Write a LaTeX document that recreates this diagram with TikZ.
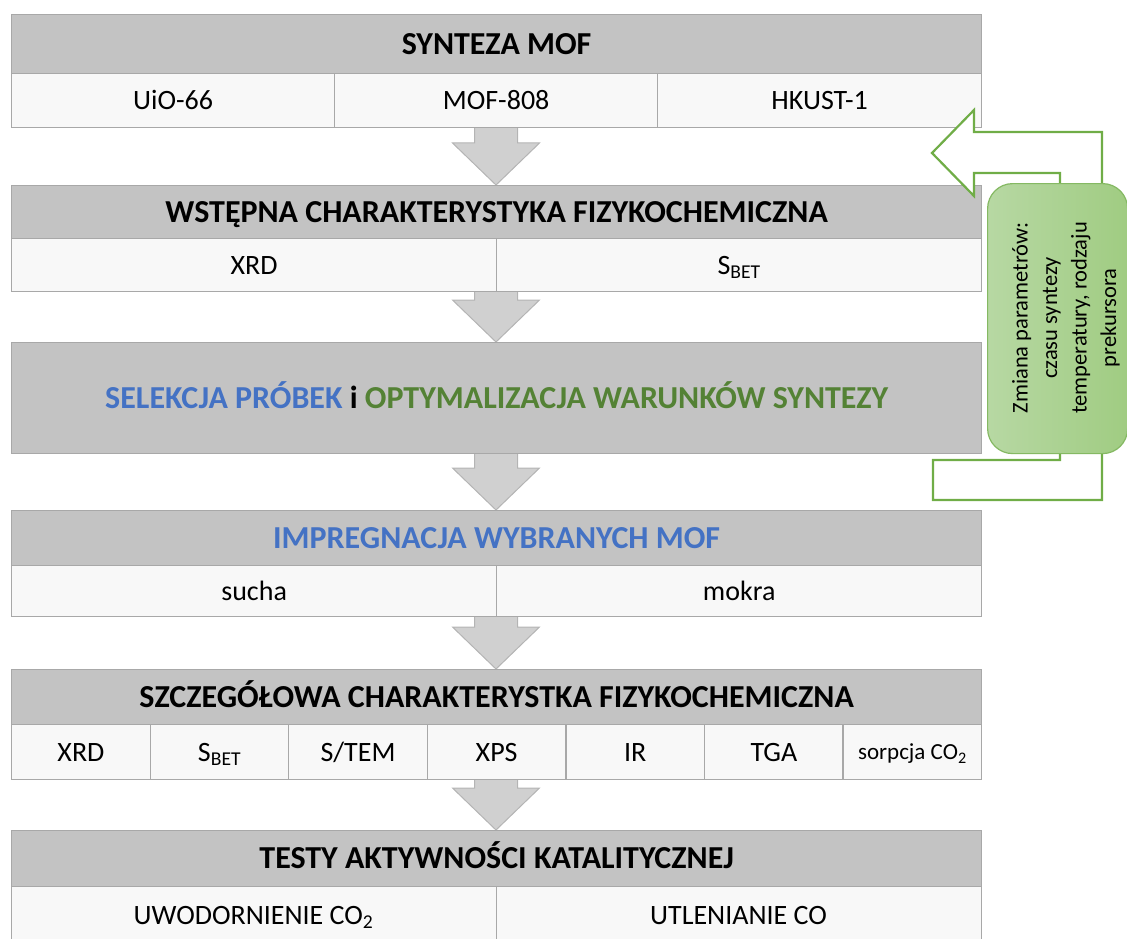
\documentclass[tikz,border=0pt]{standalone}
\usepackage{fontspec}
\setmainfont{Carlito}
\usetikzlibrary{calc}
\definecolor{hdrc}{RGB}{195,195,195}
\definecolor{cellc}{RGB}{248,248,248}
\definecolor{edge}{RGB}{168,168,168}
\definecolor{arrfill}{RGB}{208,208,208}
\definecolor{arredge}{RGB}{180,180,180}
\definecolor{grn}{RGB}{112,173,71}
\definecolor{blu}{RGB}{68,114,196}
\definecolor{dgrn}{RGB}{84,130,53}
\definecolor{gleft}{RGB}{183,216,163}
\definecolor{gright}{RGB}{160,204,130}
\tikzset{
  hdr/.style={draw=edge, fill=hdrc, line width=1.3pt, inner sep=0pt, anchor=north west,
    font=\fontsize{32}{38}\selectfont\bfseries, text height=20.6pt, text depth=0pt},
  cel/.style={draw=edge, fill=cellc, line width=1.3pt, inner sep=0pt, anchor=north west,
    font=\fontsize{28}{33}\selectfont, text height=18pt, text depth=0pt},
  celtext/.style={font=\fontsize{28}{33}\selectfont, text height=18pt, text depth=0pt, inner sep=0pt},
  arrowshape/.style={draw=arredge, fill=arrfill, line width=1pt, line join=miter},
  greenarrow/.style={draw=grn, fill=white, line width=2.2pt, line join=miter},
  gbox/.style={draw=grn!85!white, line width=1.2pt, left color=gleft, right color=gright,
    rounded corners=25pt, inner sep=0pt, anchor=north west},
  gtext/.style={rotate=90, align=center, font=\fontsize{22.5}{29.5}\selectfont, inner sep=0pt}
}
\newcommand\blockarr[2]{%
  \path[arrowshape] let \p1=(#1), \p2=(#2) in
    (\x1-21.5,\y1) -- (\x1+21.5,\y1) -- (\x1+21.5,\y2+42) -- (\x1+43.5,\y2+42)
    -- (\x1,\y2) -- (\x1-43.5,\y2+42) -- (\x1-21.5,\y2+42) -- cycle;}
\begin{document}
\begin{tikzpicture}[x=1pt,y=-1pt]
\useasboundingbox (0,0) rectangle (1127,939);
\clip (0,0) rectangle (1127,939);
% anchors for arrows (placed first so boxes cover the shaft tops)
\coordinate (t1) at (496,127);
\coordinate (t2) at (496,291);
\coordinate (t3) at (496,453);
\coordinate (t4) at (496,616);
\coordinate (t5) at (496,779);
\coordinate (n2) at (496,185);
\coordinate (n3) at (496,342);
\coordinate (n4) at (496,510);
\coordinate (n5) at (496,669);
\coordinate (n6) at (496,830);
\blockarr{t1}{n2}
\blockarr{t2}{n3}
\blockarr{t3}{n4}
\blockarr{t4}{n5}
\blockarr{t5}{n6}
% box 1
\node[hdr, minimum width=970pt, minimum height=59pt] (h1) at (11,14) {SYNTEZA MOF};
\node[cel, minimum width=323pt, minimum height=54pt] (a1) at (11,73) {UiO-66};
\node[cel, minimum width=323pt, minimum height=54pt] (b1) at (334,73) {MOF-808};
\node[cel, minimum width=324pt, minimum height=54pt] (c1) at (657,73) {HKUST-1};
% box 2
\node[hdr, minimum width=970pt, minimum height=53pt] (h2) at (11,185) {WSTĘPNA CHARAKTERYSTYKA FIZYKOCHEMICZNA};
\node[cel, minimum width=485pt, minimum height=53pt] (a2) at (11,238) {XRD};
\node[cel, minimum width=485pt, minimum height=53pt] (b2) at (496,238) {S\textsubscript{BET}};
% box 3
\node[hdr, minimum width=970pt, minimum height=111pt] (h3) at (11,342)
  {\textcolor{blu}{SELEKCJA PRÓBEK} i \textcolor{dgrn}{OPTYMALIZACJA WARUNKÓW SYNTEZY}};
% box 4
\node[hdr, minimum width=970pt, minimum height=55pt] (h4) at (11,510) {\textcolor{blu}{IMPREGNACJA WYBRANYCH MOF}};
\node[cel, minimum width=485pt, minimum height=51pt] (a4) at (11,565) {sucha};
\node[cel, minimum width=485pt, minimum height=51pt] (b4) at (496,565) {mokra};
% box 5
\node[hdr, minimum width=970pt, minimum height=55pt] (h5) at (11,669) {SZCZEGÓŁOWA CHARAKTERYSTKA FIZYKOCHEMICZNA};
\node[cel, minimum width=138.6pt, minimum height=55pt] (a5) at (11,724) {XRD};
\node[cel, minimum width=138.6pt, minimum height=55pt] (b5) at (149.6,724) {S\textsubscript{BET}};
\node[cel, minimum width=138.6pt, minimum height=55pt] (c5) at (288.1,724) {S/TEM};
\node[cel, minimum width=138.6pt, minimum height=55pt] (d5) at (426.7,724) {XPS};
\node[cel, minimum width=138.6pt, minimum height=55pt] (e5) at (565.3,724) {IR};
\node[cel, minimum width=138.6pt, minimum height=55pt] (f5) at (703.9,724) {TGA};
\node[cel, minimum width=138.6pt, minimum height=55pt, font=\fontsize{23}{27}\selectfont, text height=14.8pt] (g5) at (842.4,724) {sorpcja CO\textsubscript{2}};
% box 6
\node[hdr, minimum width=970pt, minimum height=56pt] (h6) at (11,830) {TESTY AKTYWNOŚCI KATALITYCZNEJ};
\node[cel, minimum width=485pt, minimum height=100pt] (a6) at (11,886) {};
\node[cel, minimum width=485pt, minimum height=100pt] (b6) at (496,886) {};
\node[celtext] (a6t) at (253.5,915) {UWODORNIENIE CO\textsubscript{2}};
\node[celtext] (b6t) at (738.5,915) {UTLENIANIE CO};
% green feedback arrow
\path[greenarrow] (933,460) -- (1060,460) -- (1060,173) -- (974,173) -- (974,196)
  -- (932,153) -- (974,110) -- (974,132) -- (1102,132) -- (1102,500) -- (933,500) -- cycle;
\node[gbox, minimum width=140pt, minimum height=270pt] (g) at (987,183) {};
\node[gtext] (gt) at (1066,318) {Zmiana parametrów:\\ czasu syntezy\\ temperatury, rodzaju\\ prekursora};
\end{tikzpicture}
\end{document}
